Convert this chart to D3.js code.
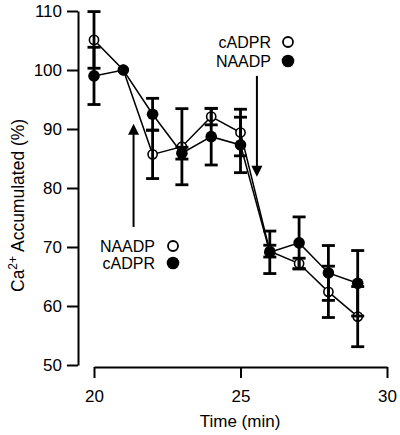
<!DOCTYPE html>
<html>
<head>
<meta charset="utf-8">
<script src="https://cdn.jsdelivr.net/npm/d3@7"></script>
<style>
  html, body { margin: 0; padding: 0; background: #fff; }
  svg { display: block; }
  text { font-family: "Liberation Sans", Arial, sans-serif; fill: #000; }
</style>
</head>
<body>
<svg id="chart" width="400" height="435"></svg>
<script>
// ---- data ----
const times = [20, 21, 22, 23, 24, 25, 26, 27, 28, 29];
const openVals   = [105.1, 100, 85.7, 87.0, 92.1, 89.4, 69.3, 67.2, 62.4, 58.2];
const openErr    = [4.8,   0,   4.1,  6.45, 1.4,  3.95, 1.0,  0.9,  4.35, 5.1];
const filledVals = [99.0,  100, 92.5, 85.9, 88.7, 87.3, 69.1, 70.7, 65.6, 63.85];
const filledErr  = [4.85,  0,   2.7,  1.0,  4.8,  4.7,  3.6,  4.4,  4.65, 5.55];
const xTicks = [20, 25, 30];
const yTicks = [50, 60, 70, 80, 90, 100, 110];
const xTitle = "Time (min)";
// annotation arrows in data units: [time, fromValue, toValue]
const arrowUp = [21.35, 73.4, 90.9];
const arrowDown = [25.56, 99.0, 81.9];
const legendTop = ["cADPR", "NAADP"];     // open, filled
const legendBottom = ["NAADP", "cADPR"];  // open, filled

// ---- scales ----
const svg = d3.select("#chart");
const x = d3.scaleLinear().domain([20, 30]).range([94, 387]);
const y = d3.scaleLinear().domain([50, 110]).range([365, 11]);

// ---- axes ----
const yAxis = svg.append("g")
  .attr("transform", "translate(78,0)")
  .call(d3.axisLeft(y).tickValues(yTicks).tickSize(11).tickSizeOuter(0).tickPadding(5));
const xAxis = svg.append("g")
  .attr("transform", "translate(0,367)")
  .call(d3.axisBottom(x).tickValues(xTicks).tickSize(11).tickSizeOuter(0).tickPadding(12));
[yAxis, xAxis].forEach(g => {
  g.select(".domain").attr("stroke", "#000").attr("stroke-width", 2);
  g.selectAll(".tick line").attr("stroke", "#000").attr("stroke-width", 2);
  g.selectAll(".tick text").attr("font-size", 17).attr("font-family", "Liberation Sans, Arial, sans-serif").attr("fill", "#000");
});

// titles
svg.append("text")
  .attr("x", 240).attr("y", 427)
  .attr("text-anchor", "middle").attr("font-size", 17)
  .text(xTitle);
const yt = svg.append("text")
  .attr("transform", "translate(24,292) rotate(-90)")
  .attr("font-size", 17.5);
yt.append("tspan").text("Ca");
yt.append("tspan").attr("font-size", 12).attr("dy", -7).text("2+");
yt.append("tspan").attr("dy", 7).text(" Accumulated (%)");

// ---- lines ----
const line = d3.line().x((d, i) => x(times[i])).y(d => y(d));
svg.append("path").attr("d", line(filledVals)).attr("fill", "none").attr("stroke", "#000").attr("stroke-width", 1.5);
svg.append("path").attr("d", line(openVals)).attr("fill", "none").attr("stroke", "#000").attr("stroke-width", 1.5);

// ---- markers (open first, filled on top) ----
svg.append("g").selectAll("circle").data(openVals).join("circle")
  .attr("cx", (d, i) => x(times[i])).attr("cy", d => y(d)).attr("r", 4.6)
  .attr("fill", "#fff").attr("stroke", "#000").attr("stroke-width", 1.6);
svg.append("g").selectAll("circle").data(filledVals).join("circle")
  .attr("cx", (d, i) => x(times[i])).attr("cy", d => y(d)).attr("r", 5.8)
  .attr("fill", "#000");

// ---- error bars ----
function errorBars(vals, errs) {
  const g = svg.append("g").attr("stroke", "#000").attr("stroke-width", 2.8);
  vals.forEach((v, i) => {
    if (!errs[i]) return;
    const cx = x(times[i]);
    const hi = y(v + errs[i]), lo = y(v - errs[i]);
    g.append("line").attr("x1", cx).attr("x2", cx).attr("y1", hi).attr("y2", lo);
    g.append("line").attr("x1", cx - 6.5).attr("x2", cx + 6.5).attr("y1", hi).attr("y2", hi);
    g.append("line").attr("x1", cx - 6.5).attr("x2", cx + 6.5).attr("y1", lo).attr("y2", lo);
  });
}
errorBars(openVals, openErr);
errorBars(filledVals, filledErr);

// ---- arrows ----
function arrow(a, up) {
  const ax = x(a[0]);
  const y0 = y(a[1]), y1 = y(a[2]);
  const dir = up ? 1 : -1;
  svg.append("line").attr("x1", ax).attr("x2", ax).attr("y1", y0).attr("y2", y1 + dir * 9)
    .attr("stroke", "#000").attr("stroke-width", 2);
  svg.append("path")
    .attr("d", `M${ax},${y1} L${ax - 5.5},${y1 + dir * 11} L${ax + 5.5},${y1 + dir * 11} Z`)
    .attr("fill", "#000");
}
arrow(arrowUp, true);
arrow(arrowDown, false);

// ---- legends ----
function legend(labels, tx, cx, baselines) {
  labels.forEach((lab, i) => {
    svg.append("text").attr("x", tx).attr("y", baselines[i])
      .attr("text-anchor", "end").attr("font-size", 16).text(lab);
    const c = svg.append("circle").attr("cx", cx).attr("cy", baselines[i] - 6);
    if (i === 0) c.attr("r", 5).attr("fill", "#fff").attr("stroke", "#000").attr("stroke-width", 1.8);
    else c.attr("r", 6.3).attr("fill", "#000");
  });
}
legend(legendTop, 271, 288, [48, 67]);
legend(legendBottom, 155, 173, [252, 269]);
</script>
</body>
</html>
